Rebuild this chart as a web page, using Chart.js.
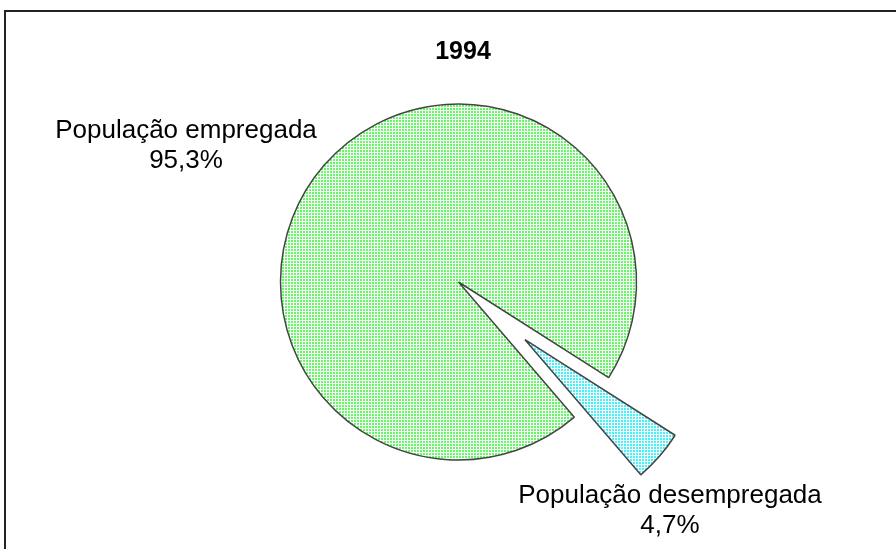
<!DOCTYPE html>
<html>
<head>
<meta charset="utf-8">
<script src="https://cdn.jsdelivr.net/npm/chart.js@4.4.1/dist/chart.umd.min.js"></script>
<style>
  body { margin: 0; background: #fff; }
  #wrap { width: 896px; height: 549px; }
</style>
</head>
<body>
<div id="wrap"><canvas id="mycanvas" width="896" height="549"></canvas></div>
<script>
var title = '1994';
var categories = ['População empregada', 'População desempregada'];
var values = [95.3, 4.7];

// dotted fill like the old excel pattern
function dots(color) {
	var c = document.createElement('canvas');
	c.width = 3; c.height = 3;
	var g = c.getContext('2d');
	g.fillStyle = '#fff';
	g.fillRect(0, 0, 3, 3);
	g.fillStyle = color;
	g.fillRect(0, 0, 2, 2);
	return g.createPattern(c, 'repeat');
}

var labelPos = [
	{x: 186, y: 138},
	{x: 670, y: 503}
];

var pieDecor = {
	id: 'pieDecor',
	beforeDatasetsDraw: function(chart) {
		// pull the small slice out
		var arcs = chart.getDatasetMeta(0).data;
		var cx = arcs[0].x, cy = arcs[0].y;
		var a = arcs[1];
		var mid = (a.startAngle + a.endAngle) / 2;
		a.x = cx + Math.cos(mid) * 88;
		a.y = cy + Math.sin(mid) * 88;
	},
	afterDraw: function(chart) {
		var ctx = chart.ctx;
		ctx.save();
		// frame
		ctx.strokeStyle = '#222';
		ctx.lineWidth = 2;
		ctx.beginPath();
		ctx.moveTo(5, 549);
		ctx.lineTo(5, 11);
		ctx.lineTo(896, 11);
		ctx.stroke();

		ctx.fillStyle = '#000';
		ctx.textAlign = 'center';
		ctx.textBaseline = 'alphabetic';
		ctx.font = 'bold 25px "Liberation Sans", Arial, sans-serif';
		ctx.fillText(title, 463, 59);

		ctx.font = '26px "Liberation Sans", Arial, sans-serif';
		for (var i = 0; i < categories.length; i++) {
			var p = labelPos[i];
			ctx.fillText(categories[i], p.x, p.y);
			ctx.fillText(values[i].toFixed(1).replace('.', ',') + '%', p.x, p.y + 30);
		}
		ctx.restore();
	}
};

var ctx = document.getElementById('mycanvas');
var pieChart = new Chart(ctx, {
	type: 'pie',
	data: {
		labels: categories,
		datasets: [{
			data: values,
			backgroundColor: [dots('#62fa62'), dots('#44f2fc')],
			borderColor: '#444',
			borderWidth: 1.5
		}]
	},
	options: {
		responsive: false,
		animation: false,
		events: [],
		rotation: 139.4,
		radius: 178,
		layout: { padding: { top: 98, bottom: 83, left: 21, right: 0 } },
		plugins: {
			legend: { display: false },
			tooltip: { enabled: false }
		}
	},
	plugins: [pieDecor]
});
</script>
</body>
</html>
